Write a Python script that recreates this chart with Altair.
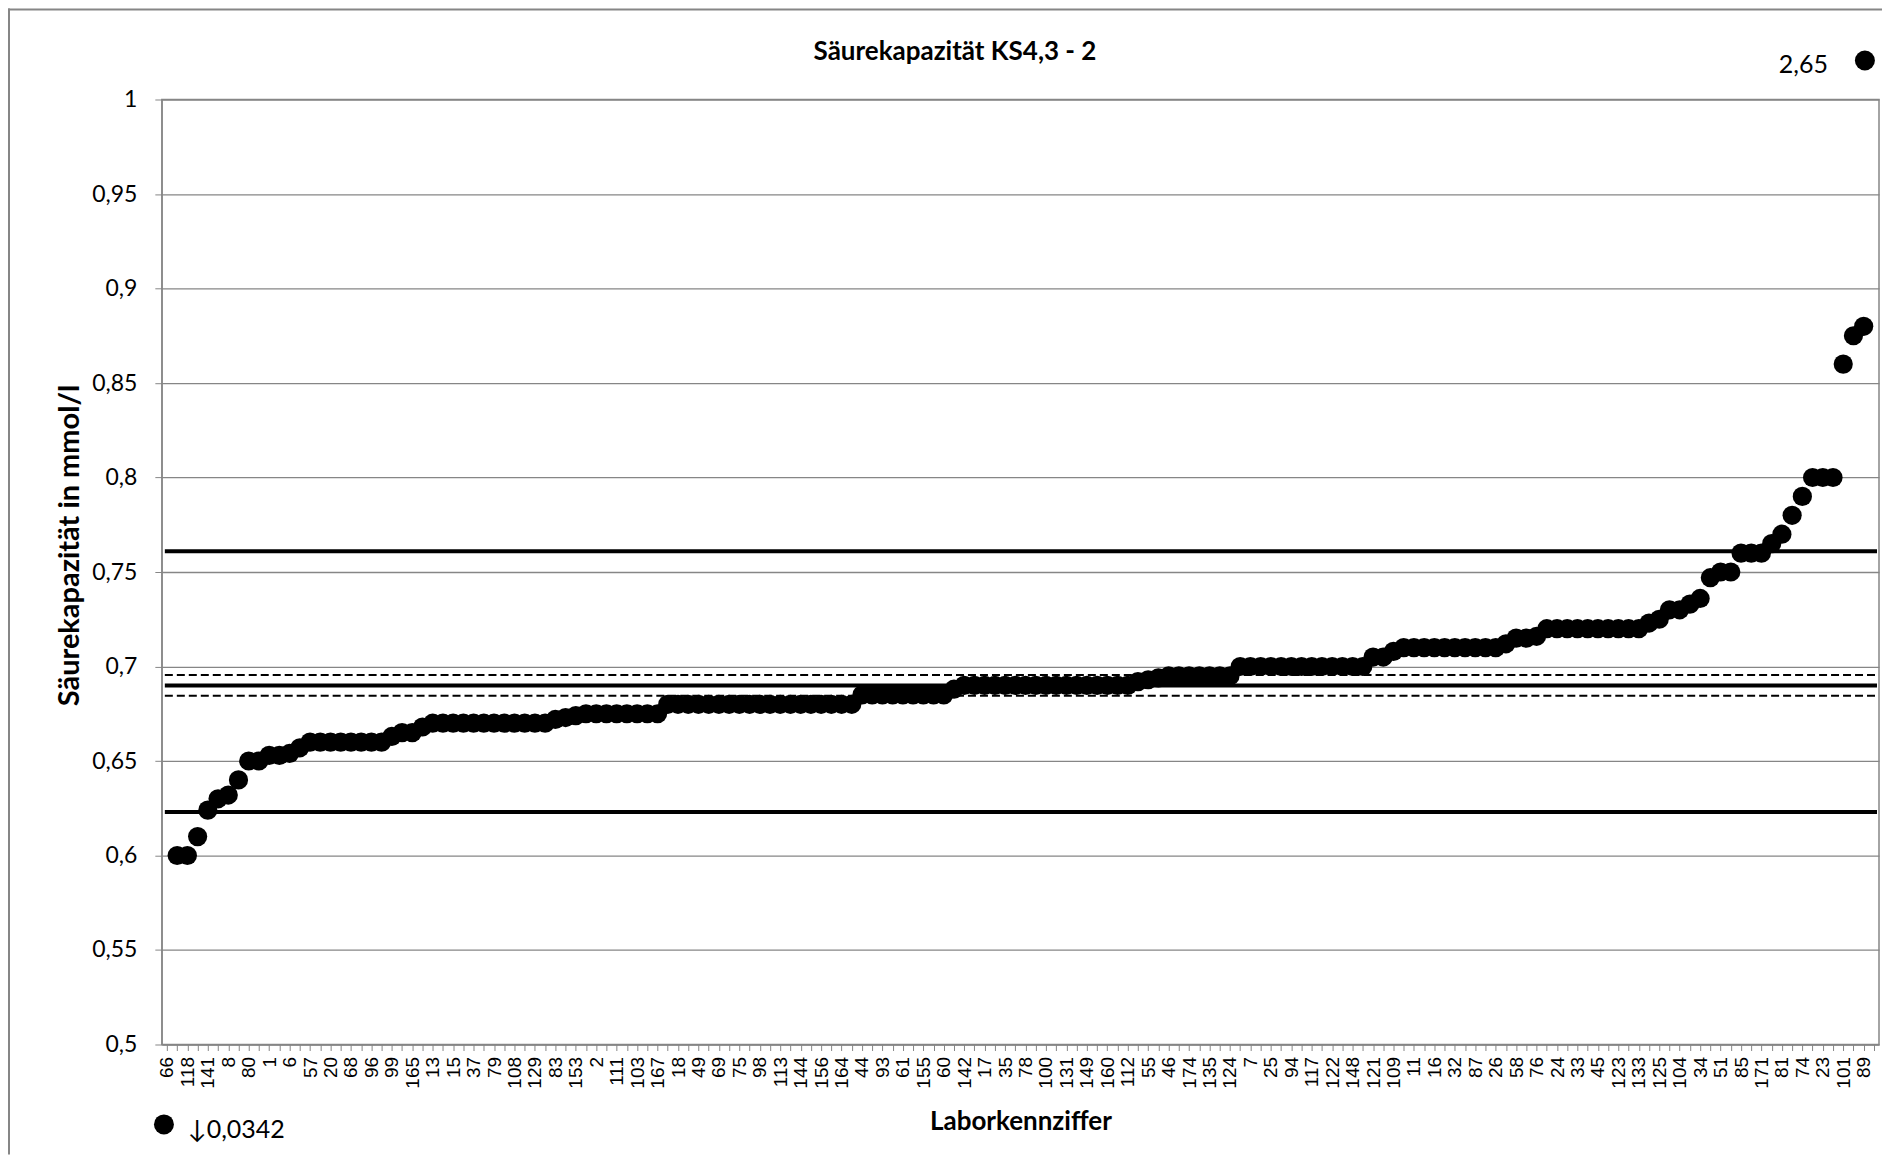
import altair as alt
import pandas as pd

# x-axis tick labels (every second laboratory is labelled in the reference)
labels = [
    "66", "118", "141", "8", "80", "1", "6", "57", "20", "68",
    "96", "99", "165", "13", "15", "37", "79", "108", "129", "83",
    "153", "2", "111", "103", "167", "18", "49", "69", "75", "98",
    "113", "144", "156", "164", "44", "93", "61", "155", "60", "142",
    "17", "35", "78", "100", "131", "149", "160", "112", "55", "46",
    "174", "135", "124", "7", "25", "94", "117", "122", "148", "121",
    "109", "11", "16", "32", "87", "26", "58", "76", "24", "33",
    "45", "123", "133", "125", "104", "34", "51", "85", "171", "81",
    "74", "23", "101", "89",
]

# measured values in mmol/l, sorted (168 laboratories)
values = [
    0.0342, 0.600, 0.600, 0.610, 0.624, 0.630, 0.632, 0.640, 0.650, 0.650,
    0.653, 0.653, 0.654, 0.657, 0.660, 0.660, 0.660, 0.660, 0.660, 0.660,
    0.660, 0.660, 0.663, 0.665, 0.665, 0.668, 0.670, 0.670, 0.670, 0.670,
    0.670, 0.670, 0.670, 0.670, 0.670, 0.670, 0.670, 0.670, 0.672, 0.673,
    0.674, 0.675, 0.675, 0.675, 0.675, 0.675, 0.675, 0.675, 0.675, 0.680,
    0.680, 0.680, 0.680, 0.680, 0.680, 0.680, 0.680, 0.680, 0.680, 0.680,
    0.680, 0.680, 0.680, 0.680, 0.680, 0.680, 0.680, 0.680, 0.685, 0.685,
    0.685, 0.685, 0.685, 0.685, 0.685, 0.685, 0.685, 0.688, 0.690, 0.690,
    0.690, 0.690, 0.690, 0.690, 0.690, 0.690, 0.690, 0.690, 0.690, 0.690,
    0.690, 0.690, 0.690, 0.690, 0.690, 0.692, 0.693, 0.694, 0.695, 0.695,
    0.695, 0.695, 0.695, 0.695, 0.695, 0.700, 0.700, 0.700, 0.700, 0.700,
    0.700, 0.700, 0.700, 0.700, 0.700, 0.700, 0.700, 0.700, 0.705, 0.705,
    0.708, 0.710, 0.710, 0.710, 0.710, 0.710, 0.710, 0.710, 0.710, 0.710,
    0.710, 0.712, 0.715, 0.715, 0.716, 0.720, 0.720, 0.720, 0.720, 0.720,
    0.720, 0.720, 0.720, 0.720, 0.720, 0.723, 0.725, 0.730, 0.730, 0.733,
    0.736, 0.747, 0.750, 0.750, 0.760, 0.760, 0.760, 0.765, 0.770, 0.780,
    0.790, 0.800, 0.800, 0.800, 0.860, 0.875, 0.880, 2.650,
]

# reference lines
solid_lines = [0.761, 0.690, 0.623]
dashed_lines = [0.6955, 0.6845]

# outliers outside the axis range (index, value, label)
out_high = {"i": 167, "v": 2.65, "t": "2,65"}
out_low = {"i": 0, "v": 0.0342, "t": "\u21930,0342"}

title_text = "Säurekapazität KS4,3 - 2"
y_ticks = [0.5, 0.55, 0.6, 0.65, 0.7, 0.75, 0.8, 0.85, 0.9, 0.95, 1.0]

W, H = 1719, 946
GRAY = "#868686"

df = pd.DataFrame({"i": list(range(len(values))), "v": values})
lab_js = "[" + ",".join("'" + s + "'" for s in labels) + "]"
label_expr = "datum.value % 2 == 0 ? " + lab_js + "[datum.value / 2] : ''"

x_enc = alt.X(
    "i:O",
    scale=alt.Scale(paddingInner=0, paddingOuter=0),
    axis=alt.Axis(
        title="Laborkennziffer",
        labelExpr=label_expr,
        labelAngle=-90,
        labelFont="Liberation Sans",
        labelFontSize=19,
        labelColor="black",
        labelPadding=6,
        labelOverlap=False,
        tickColor=GRAY,
        tickSize=6,
        domainColor=GRAY,
        titleFont="Lato",
        titleFontSize=26,
        titleFontWeight="bold",
        titleColor="black",
        titlePadding=20,
        grid=False,
    ),
)

y_scale = alt.Scale(domain=[0.5, 1.0], nice=False, zero=False)
y_enc = alt.Y(
    "v:Q",
    scale=y_scale,
    axis=alt.Axis(
        title="Säurekapazität in mmol/l",
        values=y_ticks,
        labelExpr="replace(toString(round(datum.value * 100) / 100), '.', ',')",
        labelFont="Lato",
        labelFontSize=23,
        labelColor="black",
        labelPadding=18,
        tickColor=GRAY,
        tickSize=7,
        domainColor=GRAY,
        gridColor=GRAY,
        gridWidth=1.3,
        titleFont="Lato",
        titleFontSize=29,
        titleFontWeight="bold",
        titleColor="black",
        titlePadding=7,
        titleY=446,
    ),
)

base = alt.Chart(df)
one = pd.DataFrame({"a": [0]})

# outer chart-area border (top and left edges)
frame_top = alt.Chart(one).mark_rule(color=GRAY, strokeWidth=2).encode(
    x=alt.value(-154), x2=alt.value(W + 3), y=alt.value(-90)
)
frame_left = alt.Chart(one).mark_rule(color=GRAY, strokeWidth=2).encode(
    x=alt.value(-153), y=alt.value(-91), y2=alt.value(H + 110)
)

title = alt.Chart(pd.DataFrame({"t": [title_text]})).mark_text(
    font="Lato", fontSize=26, fontWeight="bold", color="black",
    align="center", baseline="middle"
).encode(x=alt.value(794), y=alt.value(-48), text="t:N")

solid = alt.Chart(pd.DataFrame({"v": solid_lines})).mark_rule(
    color="black", strokeWidth=4
).encode(y=alt.Y("v:Q", scale=y_scale), x=alt.value(3), x2=alt.value(W - 2))

dashed = alt.Chart(pd.DataFrame({"v": dashed_lines})).mark_rule(
    color="black", strokeWidth=2, strokeDash=[8, 4]
).encode(y=alt.Y("v:Q", scale=y_scale), x=alt.value(3), x2=alt.value(W - 2))

points = base.mark_circle(size=370, color="black", opacity=1, clip=True).encode(
    x=x_enc, y=y_enc
)

hi = pd.DataFrame([out_high])
lo = pd.DataFrame([out_low])

hi_dot = alt.Chart(hi).mark_circle(size=400, color="black", opacity=1).encode(
    x=alt.X("i:O"), xOffset=alt.value(-9), y=alt.value(-39)
)
hi_txt = alt.Chart(hi).mark_text(
    font="Lato", fontSize=25, color="black", align="right", baseline="middle", dx=-46
).encode(x=alt.X("i:O"), y=alt.value(-35), text="t:N")

lo_dot = alt.Chart(lo).mark_circle(size=400, color="black", opacity=1).encode(
    x=alt.X("i:O"), xOffset=alt.value(-3), y=alt.value(H + 80)
)
lo_txt = alt.Chart(lo).mark_text(
    font="Lato", fontSize=25, color="black", align="left", baseline="middle", dx=21
).encode(x=alt.X("i:O"), y=alt.value(H + 86), text="t:N")

chart = alt.layer(
    frame_top, frame_left, title, solid, dashed, points, hi_dot, hi_txt, lo_dot, lo_txt
).properties(
    width=W,
    height=H,
    padding={"left": 154, "top": 91, "right": 3, "bottom": 110},
    autosize=alt.AutoSizeParams(type="none"),
).configure_view(
    stroke=GRAY, strokeWidth=1.5
)

chart.save("out.html", embed_options={"renderer": "svg", "actions": False})
